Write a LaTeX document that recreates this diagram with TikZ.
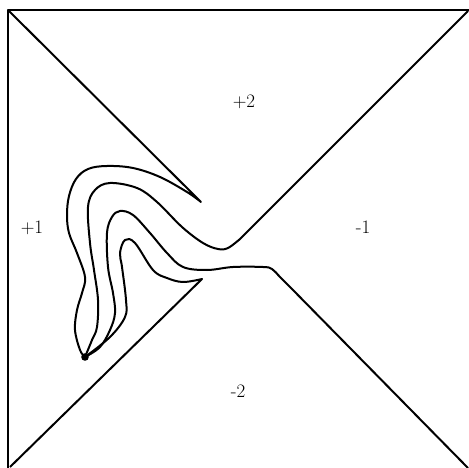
\documentclass[tikz,border=0pt]{standalone}
\usepackage{fontspec}
\begin{document}
\begin{tikzpicture}[x=1pt,y=-1pt,line width=2pt,line join=round,
  curve/.style={draw=black,line width=2pt},
  lbl/.style={font=\fontsize{19}{22}\selectfont,inner sep=0pt}]
\useasboundingbox (0,0) rectangle (469,468);
% frame
\draw (469,10) -- (8,10) -- (8,468);
% upper-left wedge with outer curve
\draw[curve] (9,11) -- (201,202) -- plot[smooth,tension=0.6] coordinates {(201,202) (187,192) (160,177) (133,168) (107,166) (88,169) (76,179) (69,196) (67,215) (69,233) (77,253) (85,277) (82,293) (77,310) (75,330) (80,350) (85,357)};
% second curve to upper-right diagonal
\draw[curve] plot[smooth,tension=0.6] coordinates {(85,357) (92,340) (97,327) (98,300) (94,270) (90,243) (88,207) (95,190) (110,183) (137,188) (157,202) (182,227) (203,243) (218,249) (228,248) (240,239)} -- (468,11);
% third curve to lower-right diagonal
\draw[curve] plot[smooth,tension=0.6] coordinates {(85,357) (100,347) (110,330) (115,313) (113,293) (108,267) (107,233) (112,217) (120,211) (133,215) (150,233) (167,253) (183,267) (207,270) (233,267) (263,267) (272,269) (280,277) (292,289)} -- (468,468);
% inner curve to lower-left wedge
\draw[curve] plot[smooth,tension=0.6] coordinates {(85,357) (110,337) (125,317) (126,300) (122,267) (120,253) (125,240) (135,243) (153,270) (167,278) (183,282) (202,279)} -- (10,467);
\fill (85,357) circle (3.8);
\node[lbl] (p2) at (244,102) {+2};
\node[lbl] (p1) at (32,228) {+1};
\node[lbl] (m1) at (363,227) {-1};
\node[lbl] (m2) at (238,391) {-2};
\end{tikzpicture}
\end{document}
